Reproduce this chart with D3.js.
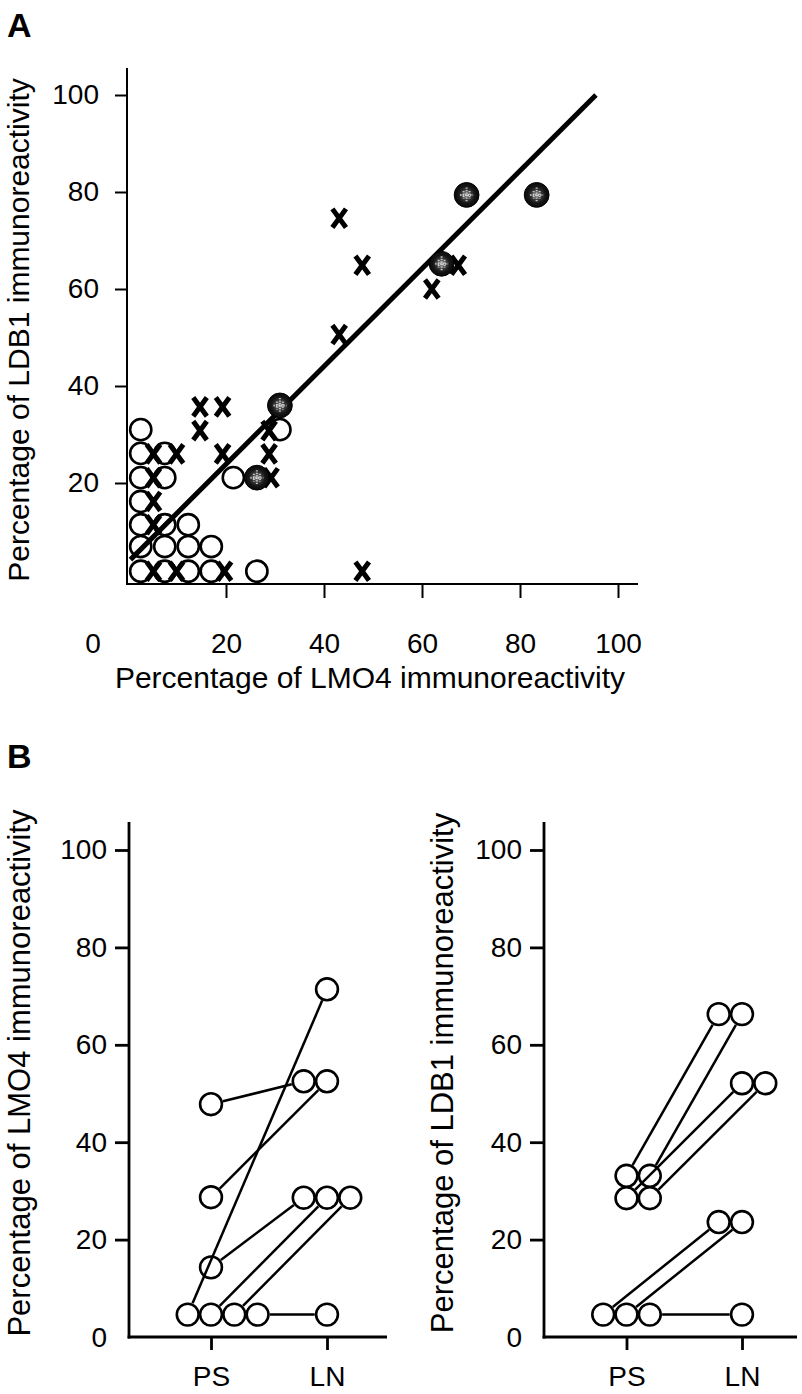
<!DOCTYPE html>
<html><head><meta charset="utf-8">
<script src="https://cdn.jsdelivr.net/npm/d3@7"></script>
<style>
body{margin:0;background:#fff}
svg{display:block}
text{font-family:"Liberation Sans",Arial,Helvetica,sans-serif;fill:#000}
</style>
</head><body>
<svg id="chart" width="802" height="1394"></svg>
<script>
// ---------------- DATA ----------------
// Panel A: LMO4 (x) vs LDB1 (y)
const aTicks = [20, 40, 60, 80, 100];
const aOpenX = [2.6, 2.6, 7.5, 2.6, 7.5, 2.6, 2.6, 7.5, 12.3, 2.6, 7.5, 12.3, 17, 2.6, 7.5, 12.3, 17, 21.5, 31, 26.3];
const aOpenY = [31, 26.1, 26.1, 21.1, 21.1, 16.2, 11.4, 11.4, 11.4, 6.9, 6.9, 6.9, 6.9, 1.8, 1.8, 1.8, 1.8, 21.1, 31, 1.8];
const aCrossX = [14.7, 19.3, 14.7, 5.2, 9.9, 19.3, 5.2, 5.2, 5.2, 5.2, 9.9, 19.7, 28.8, 28.8, 29.2, 47.8, 43.1, 47.8, 43.1, 62, 67.4];
const aCrossY = [35.7, 35.7, 30.8, 26, 26, 26, 21.1, 16.2, 11.4, 1.8, 1.8, 1.8, 30.8, 26, 21.1, 1.8, 74.6, 64.9, 50.6, 60, 64.9];
const aFilledX = [31, 26.3, 64, 69.1, 83.4];
const aFilledY = [36, 21.1, 65.2, 79.4, 79.4];
const aFitX = [0.5, 95.5];
const aFitY = [4.2, 100];

// Panel B: paired PS -> LN
const bCategories = ["PS", "LN"];
const bTicks = [20, 40, 60, 80, 100];
const lmoPS = [47.8, 28.7, 4.6, 14.3, 4.6, 4.6, 4.6];
const lmoPSRank = [0, 0, -1, 0, 0, 1, 2];
const lmoLN = [52.5, 52.5, 71.4, 28.6, 28.6, 28.6, 4.6];
const lmoLNRank = [-1, 0, 0, -1, 0, 1, 0];
const ldbPS = [33.1, 33.1, 28.5, 28.5, 4.6, 4.6, 4.6];
const ldbPSRank = [0, 1, 0, 1, -1, 0, 1];
const ldbLN = [66.3, 66.3, 52.1, 52.1, 23.6, 23.6, 4.6];
const ldbLNRank = [-1, 0, 0, 1, -1, 0, 0];

// ---------------- DRAW ----------------
const svg = d3.select("#chart");
const FONT = '"Liberation Sans",Arial,Helvetica,sans-serif';
const defs = svg.append("defs");
const grad = defs.append("radialGradient").attr("id", "fillGrad");
grad.append("stop").attr("offset", "0%").attr("stop-color", "#8a8a8a");
grad.append("stop").attr("offset", "40%").attr("stop-color", "#3a3a3a");
grad.append("stop").attr("offset", "70%").attr("stop-color", "#141414");
grad.append("stop").attr("offset", "100%").attr("stop-color", "#0a0a0a");

function styleAxis(g, fs, sw) {
  g.attr("font-family", FONT).attr("font-size", fs);
  g.select(".domain").remove();
  g.selectAll(".tick line").attr("stroke", "#000").attr("stroke-width", sw);
  g.selectAll(".tick text").attr("fill", "#000");
}

// Panel labels
svg.append("text").attr("x", 7).attr("y", 37).attr("font-size", 34).attr("font-weight", "bold").text("A");
svg.append("text").attr("x", 7).attr("y", 768).attr("font-size", 34).attr("font-weight", "bold").text("B");

// ---- Panel A ----
const xA = d3.scaleLinear().domain([0, 100]).range([128, 618]);
const yA = d3.scaleLinear().domain([0, 100]).range([580, 95]);
const axXA = 127, axYA = 584;
const gA = svg.append("g");

gA.append("g").attr("transform", `translate(${axXA},0)`)
  .call(d3.axisLeft(yA).tickValues(aTicks).tickSize(12).tickPadding(16).tickFormat(d3.format("d")))
  .call(g => styleAxis(g, 28, 2));
gA.append("g").attr("transform", `translate(0,${axYA})`)
  .call(d3.axisBottom(xA).tickValues(aTicks).tickSize(14).tickPadding(35).tickFormat(d3.format("d")))
  .call(g => styleAxis(g, 28, 2));
gA.append("line").attr("x1", axXA).attr("x2", axXA).attr("y1", 68).attr("y2", axYA + 1)
  .attr("stroke", "#000").attr("stroke-width", 2);
gA.append("line").attr("x1", axXA - 1).attr("x2", 638).attr("y1", axYA).attr("y2", axYA)
  .attr("stroke", "#000").attr("stroke-width", 2);
gA.append("text").attr("x", 93).attr("y", 653).attr("text-anchor", "middle").attr("font-size", 28).text("0");
gA.append("text").attr("x", 370).attr("y", 688).attr("text-anchor", "middle").attr("font-size", 30)
  .text("Percentage of LMO4 immunoreactivity");
gA.append("text").attr("transform", "translate(29,330) rotate(-90)").attr("text-anchor", "middle").attr("font-size", 30)
  .text("Percentage of LDB1 immunoreactivity");

// open circles
gA.append("g").selectAll("circle").data(d3.range(aOpenX.length)).join("circle")
  .attr("cx", i => xA(aOpenX[i])).attr("cy", i => yA(aOpenY[i])).attr("r", 10.6)
  .attr("fill", "#fff").attr("stroke", "#000").attr("stroke-width", 2.6);
// crosses
const cw = 6.8, ch = 9.3;
gA.append("g").selectAll("path").data(d3.range(aCrossX.length)).join("path")
  .attr("d", i => {
    const x = xA(aCrossX[i]), y = yA(aCrossY[i]);
    return `M${x - cw},${y - ch}L${x + cw},${y + ch}M${x + cw},${y - ch}L${x - cw},${y + ch}`;
  })
  .attr("stroke", "#000").attr("stroke-width", 5).attr("fill", "none");
// fit line
gA.append("line")
  .attr("x1", xA(aFitX[0])).attr("y1", yA(aFitY[0]))
  .attr("x2", xA(aFitX[1])).attr("y2", yA(aFitY[1]))
  .attr("stroke", "#000").attr("stroke-width", 5);
// filled circles
const gf = gA.append("g").selectAll("g").data(d3.range(aFilledX.length)).join("g")
  .attr("transform", i => `translate(${xA(aFilledX[i])},${yA(aFilledY[i])})`);
gf.append("circle").attr("r", 12.4).attr("fill", "url(#fillGrad)").attr("stroke", "#000").attr("stroke-width", 1);
gf.append("path").attr("d", "M-6.5,0H6.5M0,-7.5V7.5M-3,-4V4M3,-4V4").attr("stroke", "#e6e6e6").attr("stroke-width", 2)
  .attr("stroke-dasharray", "1.4,1.1").attr("opacity", 0.8);

// ---- Panel B ----
const yB = d3.scaleLinear().domain([0, 100]).range([1337, 850]);
const DODGE = 23.3, RB = 10.9, RB_OUT = 12.3;

function pairPanel(axX, xEnd, catRange, ps, psRank, ln, lnRank, title, titleX) {
  const g = svg.append("g");
  const xS = d3.scalePoint().domain(bCategories).range(catRange);
  g.append("g").attr("transform", `translate(${axX},0)`)
    .call(d3.axisLeft(yB).tickValues(bTicks).tickSize(14).tickPadding(8).tickFormat(d3.format("d")))
    .call(gg => styleAxis(gg, 28, 2.8));
  g.append("g").attr("transform", `translate(0,${yB(0)})`)
    .call(d3.axisBottom(xS).tickSize(13).tickPadding(14))
    .call(gg => styleAxis(gg, 28, 2.8));
  g.selectAll(".tick text").filter(function(){return this.textContent==="PS"||this.textContent==="LN";})
    .attr("dy", null).attr("y", 49);
  g.append("text").attr("x", axX - 22).attr("y", yB(0)).attr("dy", "0.35em").attr("text-anchor", "end")
    .attr("font-size", 28).text("0");
  g.append("line").attr("x1", axX).attr("x2", axX).attr("y1", 822).attr("y2", yB(0) + 1.4)
    .attr("stroke", "#000").attr("stroke-width", 2.8);
  g.append("line").attr("x1", axX - 1.4).attr("x2", xEnd).attr("y1", yB(0)).attr("y2", yB(0))
    .attr("stroke", "#000").attr("stroke-width", 2.8);
  g.append("text").attr("transform", `translate(${titleX},1073) rotate(-90)`).attr("text-anchor", "middle")
    .attr("font-size", 31).text(title);

  const idx = d3.range(ps.length);
  const p1 = i => [xS("PS") + psRank[i] * DODGE, yB(ps[i])];
  const p2 = i => [xS("LN") + lnRank[i] * DODGE, yB(ln[i])];
  const circ = [];
  idx.forEach(i => { circ.push(p1(i)); circ.push(p2(i)); });
  g.append("g").selectAll("circle").data(circ).join("circle")
    .attr("cx", d => d[0]).attr("cy", d => d[1]).attr("r", RB)
    .attr("fill", "#fff").attr("stroke", "#000").attr("stroke-width", 2.6);
  g.append("g").selectAll("line").data(idx).join("line")
    .each(function(i) {
      const a = p1(i), b = p2(i);
      const dx = b[0] - a[0], dy = b[1] - a[1], L = Math.hypot(dx, dy);
      const ux = dx / L, uy = dy / L;
      d3.select(this)
        .attr("x1", a[0] + ux * RB_OUT).attr("y1", a[1] + uy * RB_OUT)
        .attr("x2", b[0] - ux * RB_OUT).attr("y2", b[1] - uy * RB_OUT);
    })
    .attr("stroke", "#000").attr("stroke-width", 2.5);
}

pairPanel(129, 387, [211, 327], lmoPS, lmoPSRank, lmoLN, lmoLNRank, "Percentage of LMO4 immunoreactivity", 30);
pairPanel(544, 797, [626.5, 742], ldbPS, ldbPSRank, ldbLN, ldbLNRank, "Percentage of LDB1 immunoreactivity", 453);
</script>
</body></html>
